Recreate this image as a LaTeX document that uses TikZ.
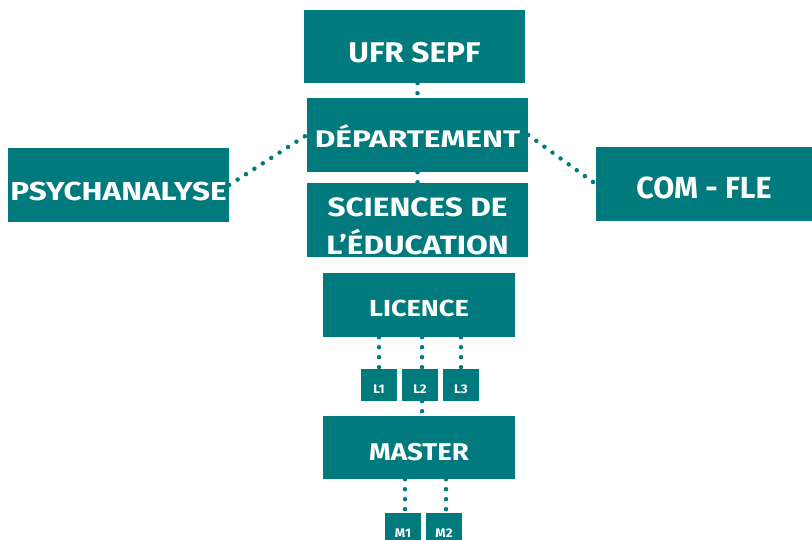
\documentclass[tikz,border=0pt]{standalone}
\usepackage{fontspec}
\usepackage{graphicx}
\setmainfont{Fira Sans}
\usetikzlibrary{backgrounds}
\definecolor{teal}{HTML}{007A7C}
\newcommand{\hs}[2]{\scalebox{#1}[1]{#2}}
\tikzset{
  box/.style={fill=teal, text=white, inner sep=0pt, text depth=0pt},
  bigbox/.style={box, minimum width=221pt, minimum height=74pt},
  midbox/.style={box, minimum width=192pt, minimum height=64pt},
  smallbox/.style={box, minimum width=36pt, minimum height=32pt, text height=16.6pt, font=\bfseries\fontsize{12.5}{15}\selectfont},
  dotline/.style={draw=teal, line width=4.5pt, line cap=round, dash pattern=on 0pt off 10pt}
}
\begin{document}
\begin{tikzpicture}[x=1pt,y=-1pt]
\useasboundingbox (0,0) rectangle (812,540);
\node[bigbox, minimum height=73pt, text height=31.6pt, font=\bfseries\fontsize{28.5}{34}\selectfont] (ufr) at (414.5,46.5) {\hs{1.11}{UFR SEPF}};
\node[bigbox, text height=25.5pt, font=\bfseries\fontsize{24}{29}\selectfont] (dept) at (417.5,135) {\hs{1.32}{DÉPARTEMENT}};
\node[bigbox] (sci) at (417.5,220) {};
\node[box, text depth=, align=center, font=\bfseries\fontsize{26.5}{38}\selectfont] (scitxt) at (417.5,226.5) {\hs{1.19}{SCIENCES DE}\\\hs{1.19}{L’ÉDUCATION}};
\node[bigbox, text height=30.9pt, font=\bfseries\fontsize{26}{31}\selectfont] (psych) at (118.5,185) {\hs{1.21}{PSYCHANALYSE}};
\node[bigbox, minimum width=216pt, text height=30pt, font=\bfseries\fontsize{30.5}{36}\selectfont] (com) at (704,184) {COM - FLE};
\node[midbox, text height=23.4pt, font=\bfseries\fontsize{23.2}{28}\selectfont] (lic) at (419,305) {\hs{1.17}{LICENCE}};
\node[smallbox] (l1) at (379,385) {\hs{1.05}{L1}};
\node[smallbox] (l2) at (420,385) {\hs{1.05}{L2}};
\node[smallbox] (l3) at (461,385) {\hs{1.05}{L3}};
\node[midbox, minimum height=63pt, text height=26.3pt, font=\bfseries\fontsize{24.2}{29}\selectfont] (mas) at (419,447.5) {\hs{1.14}{MASTER}};
\node[smallbox] (m1) at (403,529) {\hs{1.05}{M1}};
\node[smallbox] (m2) at (444,529) {\hs{1.05}{M2}};
\begin{scope}[on background layer]
\draw[dotline] (ufr.south -| dept.north) -- (dept.north);
\draw[dotline] (dept.south) -- (sci.north);
\draw[dotline] (psych.east) -- (dept.west);
\draw[dotline] (dept.east) -- (com.west);
\draw[dotline] (lic.south -| l1.north) -- (l1.north);
\draw[dotline] ([xshift=2pt]lic.south -| l2.north) -- ([xshift=2pt]l2.north);
\draw[dotline] (lic.south -| l3.north) -- (l3.north);
\draw[dotline] ([xshift=2pt]l2.south) -- ([xshift=2pt]mas.north -| l2.south);
\draw[dotline] ([xshift=2pt]mas.south -| m1.north) -- ([xshift=2pt]m1.north);
\draw[dotline] ([xshift=2pt]mas.south -| m2.north) -- ([xshift=2pt]m2.north);
\end{scope}
\end{tikzpicture}
\end{document}
